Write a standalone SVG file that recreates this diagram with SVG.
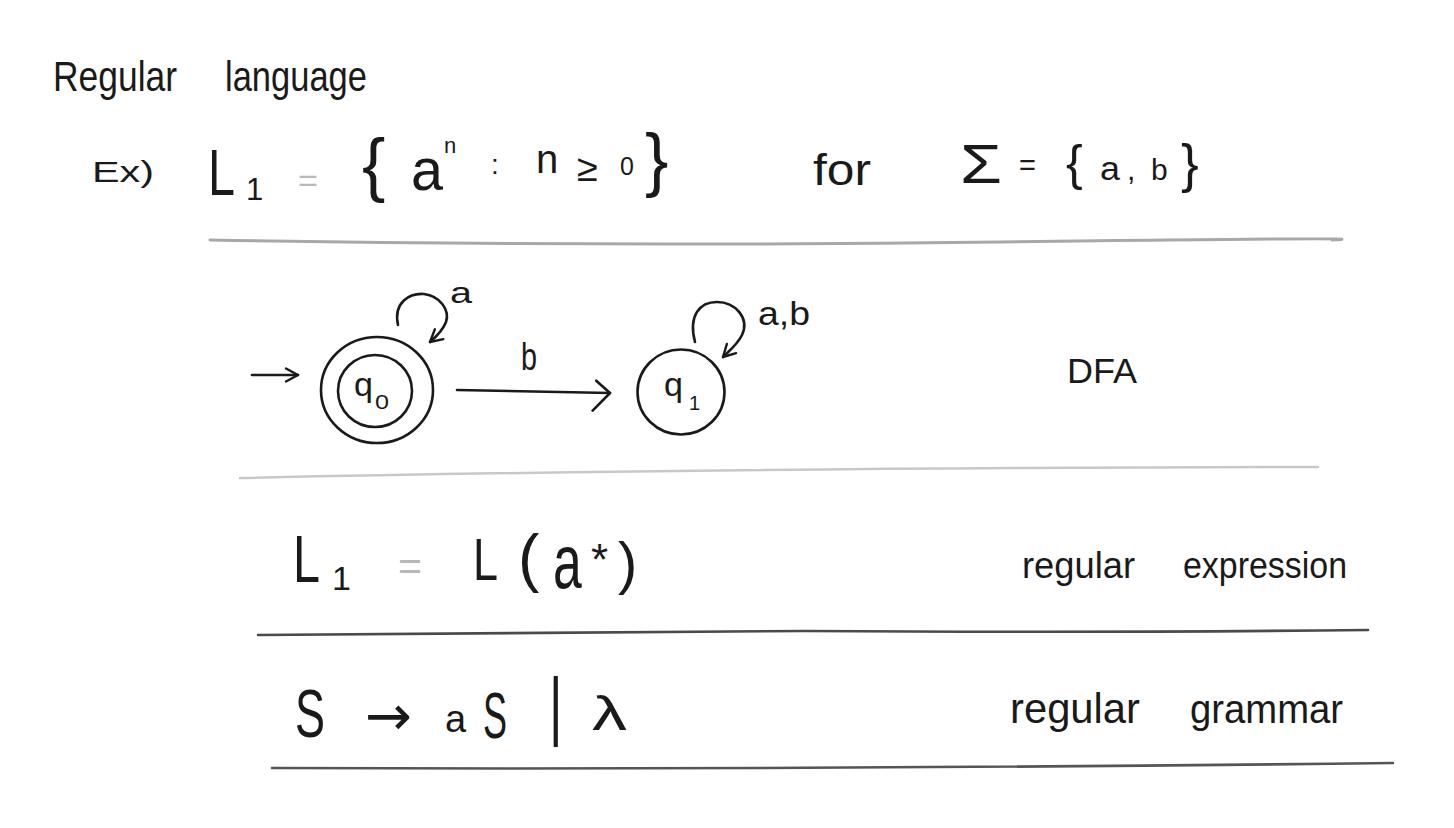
<svg xmlns="http://www.w3.org/2000/svg" width="1454" height="828" viewBox="0 0 1454 828">
<defs>
<style>
.t{font-family:"Liberation Sans","DejaVu Sans",sans-serif;fill:#1a1a1a}
.ink{fill:none;stroke:#1a1a1a;stroke-width:2.6;stroke-linecap:round;stroke-linejoin:round}
.rule{fill:none;stroke-linecap:round}
.gray{fill:#b8b8b8}
</style>
<marker id="open" viewBox="0 0 16 16" refX="14" refY="8" markerWidth="16" markerHeight="16" markerUnits="userSpaceOnUse" orient="auto">
<path d="M2,1.5 L14,8 L2,14.5" fill="none" stroke="#1a1a1a" stroke-width="2.4" stroke-linecap="round" stroke-linejoin="round"/>
</marker>
<marker id="open2" viewBox="0 0 24 34" refX="20" refY="14" markerWidth="24" markerHeight="34" markerUnits="userSpaceOnUse" orient="auto">
<path d="M6,2 L20,14 L3,32" fill="none" stroke="#1a1a1a" stroke-width="2.6" stroke-linecap="round" stroke-linejoin="round"/>
</marker>
</defs>
<rect width="1454" height="828" fill="#ffffff"/>

<g id="title">
<text class="t" x="53" y="91" font-size="42" textLength="124" lengthAdjust="spacingAndGlyphs">Regular</text>
<text class="t" x="225" y="91" font-size="42" textLength="142" lengthAdjust="spacingAndGlyphs">language</text>
</g>

<g id="definition">
<text class="t" x="92" y="182" font-size="30" textLength="62" lengthAdjust="spacingAndGlyphs">Ex)</text>
<text class="t" x="208" y="195" font-size="65" textLength="27" lengthAdjust="spacingAndGlyphs">L</text>
<text class="t" x="246" y="200" font-size="31">1</text>
<text class="t gray" x="298" y="191" font-size="32" textLength="20" lengthAdjust="spacingAndGlyphs">=</text>
<text class="t" x="362" y="188" font-size="70">{</text>
<text class="t" x="411" y="190" font-size="60" textLength="32" lengthAdjust="spacingAndGlyphs">a</text>
<text class="t" x="444" y="153" font-size="22">n</text>
<text class="t" x="491" y="174" font-size="28">:</text>
<text class="t" x="536" y="173" font-size="40">n</text>
<text class="t" x="577" y="181" font-size="38">≥</text>
<text class="t" x="620" y="175" font-size="25">0</text>
<text class="t" x="645" y="183" font-size="70">}</text>
<text class="t" x="813" y="185" font-size="44" textLength="58" lengthAdjust="spacingAndGlyphs">for</text>
<text class="t" x="960" y="183" font-size="55" textLength="42" lengthAdjust="spacingAndGlyphs">Σ</text>
<text class="t" x="1019" y="175" font-size="29">=</text>
<text class="t" x="1066" y="180" font-size="50">{</text>
<text class="t" x="1100" y="180" font-size="34" textLength="20" lengthAdjust="spacingAndGlyphs">a</text>
<text class="t" x="1127" y="180" font-size="30">,</text>
<text class="t" x="1151" y="180" font-size="30">b</text>
<text class="t" x="1181" y="182" font-size="53">}</text>
</g>

<g id="rules">
<path class="rule" d="M210,240 Q600,247 1000,242 T1332,240" stroke="#a8a8a8" stroke-width="3"/>
<path class="rule" d="M240,478 Q700,468 1318,467" stroke="#c8c8c8" stroke-width="2.5"/>
<path class="rule" d="M258,635 L805,631 Q1100,633 1368,630" stroke="#4a4a4a" stroke-width="2.6"/>
<path class="rule" d="M272,768 Q800,770 1393,763" stroke="#555555" stroke-width="2.6"/>
</g>

<g id="q0">
<ellipse class="ink" cx="377" cy="390" rx="56" ry="53"/>
<ellipse class="ink" cx="375" cy="391" rx="37" ry="36"/>
<text class="t" x="354" y="396" font-size="34">q</text>
<text class="t" x="375" y="409" font-size="20" textLength="14" lengthAdjust="spacingAndGlyphs">0</text>
</g>

<g id="q1">
<ellipse class="ink" cx="681" cy="392" rx="43.5" ry="42.5"/>
<text class="t" x="664" y="396" font-size="34">q</text>
<text class="t" x="689" y="410" font-size="20">1</text>
</g>

<g id="connectors">
<path class="ink" d="M252,375 L298,375" marker-end="url(#open)"/>
<path class="ink" d="M457,390 L610,393" marker-end="url(#open2)"/>
<path class="ink" d="M398,325 C393,302 410,293 424,294 C440,296 450,310 446,322 C443,330 437,336 430,342" marker-end="url(#open)"/>
<path class="ink" d="M695,342 C688,315 700,302 717,302 C735,302 750,318 742,335 C737,345 730,350 723,357" marker-end="url(#open)"/>
<text class="t" x="450" y="303" font-size="30" textLength="22" lengthAdjust="spacingAndGlyphs">a</text>
<text class="t" x="521" y="370" font-size="38" textLength="16" lengthAdjust="spacingAndGlyphs">b</text>
<text class="t" x="758" y="325" font-size="34" textLength="52" lengthAdjust="spacingAndGlyphs">a,b</text>
</g>

<g id="dfa-label">
<text class="t" x="1067" y="383" font-size="35" textLength="70" lengthAdjust="spacingAndGlyphs">DFA</text>
</g>

<g id="regex">
<text class="t" x="293" y="582" font-size="66" textLength="27" lengthAdjust="spacingAndGlyphs">L</text>
<text class="t" x="332" y="590" font-size="34">1</text>
<text class="t gray" x="398" y="580" font-size="40" textLength="24" lengthAdjust="spacingAndGlyphs">=</text>
<text class="t" x="473" y="580" font-size="60" textLength="25" lengthAdjust="spacingAndGlyphs">L</text>
<text class="t" x="518" y="580" font-size="64">(</text>
<text class="t" transform="translate(553,588) scale(0.68,1)" font-size="76">a</text>
<text class="t" x="591" y="575" font-size="44">*</text>
<text class="t" x="618" y="583" font-size="58">)</text>
<text class="t" x="1022" y="578" font-size="36" textLength="113" lengthAdjust="spacingAndGlyphs">regular</text>
<text class="t" x="1183" y="578" font-size="36" textLength="164" lengthAdjust="spacingAndGlyphs">expression</text>
</g>

<g id="grammar">
<text class="t" x="295" y="737" font-size="68" textLength="30" lengthAdjust="spacingAndGlyphs">S</text>
<text x="365" y="735" font-family="DejaVu Sans, sans-serif" font-size="56" fill="#1a1a1a" textLength="47" lengthAdjust="spacingAndGlyphs">→</text>
<text class="t" x="445" y="732" font-size="38">a</text>
<text class="t" x="483" y="738" font-size="64" textLength="24" lengthAdjust="spacingAndGlyphs">S</text>
<text class="t" transform="translate(549,731) scale(1,1.45)" font-size="52">|</text>
<text class="t" x="592" y="730" font-size="48" textLength="35" lengthAdjust="spacingAndGlyphs">λ</text>
<text class="t" x="1010" y="723" font-size="42" textLength="130" lengthAdjust="spacingAndGlyphs">regular</text>
<text class="t" x="1190" y="723" font-size="40" textLength="153" lengthAdjust="spacingAndGlyphs">grammar</text>
</g>
</svg>
